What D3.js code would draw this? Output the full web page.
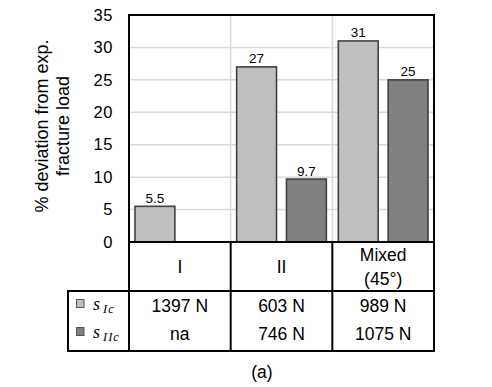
<!DOCTYPE html>
<html><head><meta charset="utf-8">
<script src="https://cdn.jsdelivr.net/npm/d3@7"></script>
<style>
html,body{margin:0;padding:0;background:#fff;}
svg{display:block;font-family:"Liberation Sans",Arial,sans-serif;}
</style></head>
<body>
<svg id="c" width="492" height="387"></svg>
<script>
const categories = ["I", "II", "Mixed (45°)"];
const categoryLines = [["I"], ["II"], ["Mixed", "(45°)"]];
const seriesNames = ["sIc", "sIIc"];
const seriesSub = ["Ic", "IIc"];
const sIcValues = [5.5, 27, 31];
const sIIcValues = [null, 9.7, 25];
const sIcLoads = ["1397 N", "603 N", "989 N"];
const sIIcLoads = ["na", "746 N", "1075 N"];
const yTicks = [0, 5, 10, 15, 20, 25, 30, 35];
const yTitle = ["% deviation from exp.", "fracture load"];
const caption = "(a)";

const colors = ["#c0c0c0", "#808080"];
const svg = d3.select("#c");
const L = 129, R = 434, T = 15, B = 242;
const tabTop = 291, tabBot = 351, tabLeft = 68;

const y = d3.scaleLinear().domain([0, 35]).range([B, T]);
const x = d3.scaleBand().domain(categories).range([L, R]).padding(0);
const xi = d3.scaleBand().domain(seriesNames).range([0, x.bandwidth()]).paddingInner(0.2).paddingOuter(0.12);

// gridlines
svg.append("g").selectAll("line").data(yTicks.slice(1, -1)).join("line")
  .attr("x1", L).attr("x2", R).attr("y1", d => y(d)).attr("y2", d => y(d))
  .attr("stroke", "#d9d9d9").attr("stroke-width", 1.5);
svg.append("g").selectAll("line").data(categories.slice(1)).join("line")
  .attr("x1", d => x(d)).attr("x2", d => x(d)).attr("y1", T).attr("y2", B)
  .attr("stroke", "#d9d9d9").attr("stroke-width", 1.5);

// y axis labels
const yAxis = d3.axisLeft(y).tickValues(yTicks).tickSize(0).tickPadding(16);
const ga = svg.append("g").attr("transform", `translate(${L},0)`).call(yAxis);
ga.select(".domain").remove();
ga.selectAll("text").attr("font-size", 16.5).attr("fill", "#000")
  .attr("font-family", "'Liberation Sans',Arial,sans-serif").attr("letter-spacing", 0.6);

// bars
const series = [sIcValues, sIIcValues];
const bars = [];
categories.forEach((c, i) => series.forEach((s, j) => {
  if (s[i] != null) bars.push({c, s: seriesNames[j], v: s[i], j});
}));
svg.append("g").selectAll("rect").data(bars).join("rect")
  .attr("x", d => x(d.c) + xi(d.s)).attr("width", xi.bandwidth())
  .attr("y", d => y(d.v)).attr("height", d => B - y(d.v))
  .attr("fill", d => colors[d.j]).attr("stroke", "#404040").attr("stroke-width", 1.6);
svg.append("g").selectAll("text").data(bars).join("text")
  .attr("x", d => x(d.c) + xi(d.s) + xi.bandwidth() / 2).attr("y", d => y(d.v) - 3.5)
  .attr("text-anchor", "middle").attr("font-size", 13.5).attr("fill", "#000")
  .text(d => d.v);

// plot frame
svg.append("rect").attr("x", L).attr("y", T).attr("width", R - L).attr("height", B - T)
  .attr("fill", "none").attr("stroke", "#000").attr("stroke-width", 2);

// y title
const yt = svg.append("text").attr("transform", "translate(42,126) rotate(-90)")
  .attr("text-anchor", "middle").attr("font-size", 18).attr("fill", "#000");
yTitle.forEach((t, i) => yt.append("tspan").attr("x", 0).attr("dy", i === 0 ? "0.35em" : 21).text(t));

// table lines
const tg = svg.append("g").attr("stroke", "#000").attr("stroke-width", 2).attr("fill", "none");
tg.append("line").attr("x1", L).attr("x2", L).attr("y1", B).attr("y2", tabBot);
tg.append("line").attr("x1", R).attr("x2", R).attr("y1", B).attr("y2", tabBot);
categories.slice(1).forEach(c => tg.append("line").attr("x1", x(c)).attr("x2", x(c)).attr("y1", B).attr("y2", tabBot));
tg.append("rect").attr("x", tabLeft).attr("y", tabTop).attr("width", R - tabLeft).attr("height", tabBot - tabTop);

// category labels
categories.forEach((c, i) => {
  const lines = categoryLines[i];
  const cy = (B + tabTop) / 2;
  const t = svg.append("text").attr("text-anchor", "middle").attr("font-size", 17.5).attr("fill", "#000");
  lines.forEach((ln, k) => t.append("tspan").attr("x", x(c) + x.bandwidth() / 2)
    .attr("y", cy + (k - (lines.length - 1) / 2) * 24).attr("dy", "0.35em").text(ln));
});

// legend rows
const rowsY = [306, 334];
const loads = [sIcLoads, sIIcLoads];
seriesNames.forEach((s, j) => {
  svg.append("rect").attr("x", 76.5).attr("y", rowsY[j] - 6.5).attr("width", 7.5).attr("height", 8)
    .attr("fill", colors[j]).attr("stroke", "#555").attr("stroke-width", 1);
  const t = svg.append("text").attr("x", 93).attr("y", rowsY[j] + 4)
    .attr("font-family", "'Liberation Serif','DejaVu Serif',serif").attr("font-style", "italic")
    .attr("fill", "#000").attr("font-size", 18).attr("letter-spacing", 1);
  t.append("tspan").text("s");
  t.append("tspan").attr("font-size", 12.5).attr("dy", 3).attr("dx", 2).text(seriesSub[j]);
  categories.forEach((c, i) => {
    svg.append("text").attr("x", x(c) + x.bandwidth() / 2).attr("y", rowsY[j]).attr("dy", "0.35em")
      .attr("text-anchor", "middle").attr("font-size", 17.5).attr("fill", "#000").text(loads[j][i]);
  });
});

svg.append("text").attr("x", 262).attr("y", 372).attr("dy", "0.35em").attr("text-anchor", "middle")
  .attr("font-size", 17.5).attr("fill", "#000").text(caption);
</script>
</body></html>
